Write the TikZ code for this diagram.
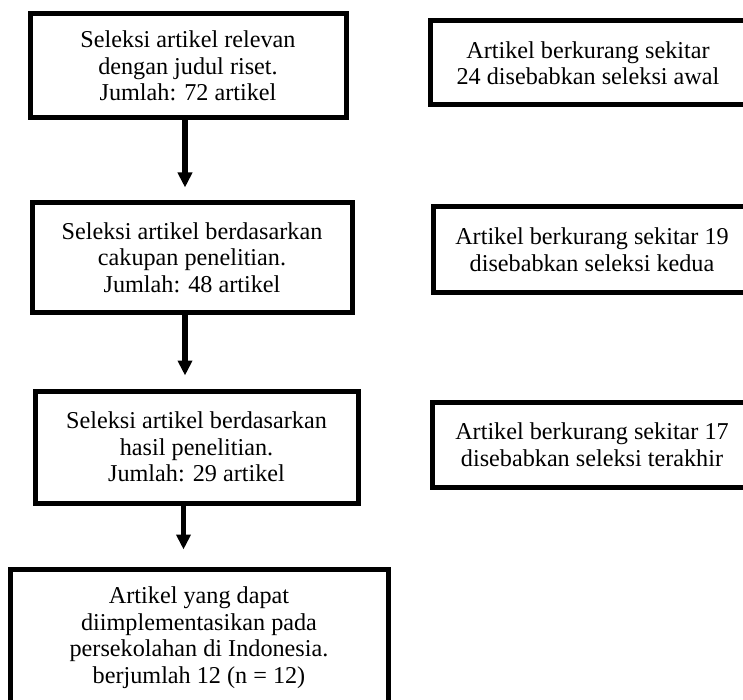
\documentclass[tikz,border=0pt]{standalone}
\usepackage{fontspec}
\setmainfont{Liberation Serif}
\usetikzlibrary{arrows.meta}

\tikzset{
  kotak/.style={draw=black, line width=2.5pt, fill=white, align=center,
    inner sep=0pt, font=\fontsize{12.1}{13.25}\selectfont},
  panah/.style={line width=2.6pt, -{Triangle[width=7pt,length=7.5pt]}, shorten >=6.5pt}
}

\begin{document}
\begin{tikzpicture}[x=0.5pt, y=-0.5pt]
                % Batas gambar
                \useasboundingbox (0,0) rectangle (743,700);
                \clip (0,0) rectangle (743,700);

                % Kotak seleksi (kiri)
                \node[kotak, minimum width=158pt, minimum height=52pt] (seleksiA) at (188,66)
                    {Seleksi artikel relevan\\dengan judul riset.\\Jumlah: 72 artikel};
                \node[kotak, minimum width=160pt, minimum height=54.5pt] (seleksiB) at (192,257.5)
                    {Seleksi artikel berdasarkan\\cakupan penelitian.\\Jumlah: 48 artikel};
                \node[kotak, minimum width=161.5pt, minimum height=56pt] (seleksiC) at (196.5,447)
                    {Seleksi artikel berdasarkan\\hasil penelitian.\\Jumlah: 29 artikel};
                \node[kotak, minimum width=189pt, minimum height=68.5pt] (hasil) at (199,637.5)
                    {Artikel yang dapat\\diimplementasikan pada\\persekolahan di Indonesia.\\berjumlah 12 (n = 12)};

                % Kotak pengurangan (kanan)
                \node[kotak, minimum width=158pt, minimum height=42pt] (kurangA) at (588,63)
                    {Artikel berkurang sekitar\\24 disebabkan seleksi awal};
                \node[kotak, minimum width=159pt, minimum height=42.5pt] (kurangB) at (592,249.5)
                    {Artikel berkurang sekitar 19\\disebabkan seleksi kedua};
                \node[kotak, minimum width=160pt, minimum height=42.5pt] (kurangC) at (592,444.5)
                    {Artikel berkurang sekitar 17\\disebabkan seleksi terakhir};

                % Panah
                \draw[panah] ([xshift=-1.5pt]seleksiA.south) -- ([xshift=-1.5pt]seleksiA.south |- seleksiB.north);
                \draw[panah] ([xshift=-3.5pt]seleksiB.south) -- ([xshift=-3.5pt]seleksiB.south |- seleksiC.north);
                \draw[panah, shorten >=8.5pt] ([xshift=-6.5pt]seleksiC.south) -- ([xshift=-6.5pt]seleksiC.south |- hasil.north);
\end{tikzpicture}
\end{document}
